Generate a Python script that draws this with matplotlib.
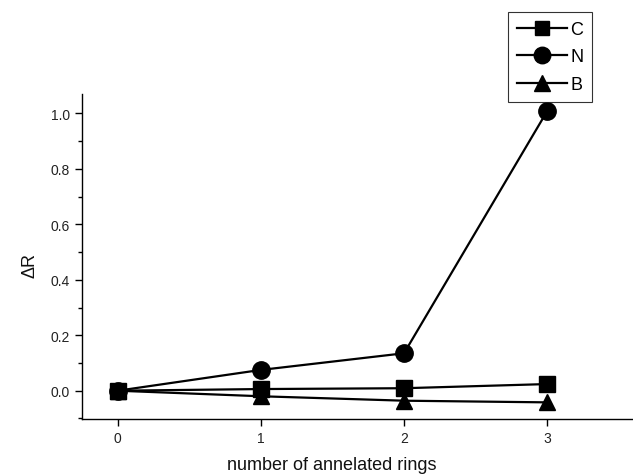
import matplotlib
matplotlib.use("Agg")
import matplotlib.pyplot as plt
from matplotlib.ticker import MultipleLocator

x = [0, 1, 2, 3]
C = [0.0, 0.006, 0.009, 0.024]
N = [0.0, 0.075, 0.135, 1.008]
B = [0.0, -0.020, -0.036, -0.042]
xticks = [0, 1, 2, 3]
yticks = [0.0, 0.2, 0.4, 0.6, 0.8, 1.0]

plt.rcParams['font.family'] = ['Liberation Sans', 'DejaVu Sans']

W, H = 633, 477
fig = plt.figure(figsize=(W/100, H/100), dpi=100)
ax = fig.add_axes([82/W, 1-420/H, 1-82/W, (420-95)/H])

lc, = ax.plot(x, C, '-s', color='black', lw=1.6, ms=11, label='C')
ln, = ax.plot(x, N, '-o', color='black', lw=1.6, ms=12.5, label='N')
lb, = ax.plot(x, B, '-^', color='black', lw=1.6, ms=12, label='B')
for l in (lc, ln, lb):
    l.set_clip_on(False)

ax.set_xlim(-0.25, 3.6)
ax.set_ylim(-0.102, 1.07)
ax.set_xticks(xticks)
ax.set_yticks(yticks)
ax.set_yticklabels([f"{v:.1f}" for v in yticks])
ax.yaxis.set_minor_locator(MultipleLocator(0.1))
ax.tick_params(axis='both', which='major', direction='out', length=5, width=1,
               labelsize=10, pad=3.5, labelcolor='#222222')
ax.tick_params(axis='y', which='minor', direction='out', length=3, width=1)
for s in ('top', 'right'):
    ax.spines[s].set_visible(False)
for s in ('left', 'bottom'):
    ax.spines[s].set_linewidth(1)

fig.text(332/W, 1-466/H, 'number of annelated rings', fontsize=13,
         ha='center', va='center', color='#111111')
fig.text(30/W, 1-266/H, 'ΔR', fontsize=13, rotation=90,
         ha='center', va='center', color='#111111')

leg = fig.legend(handles=[lc, ln, lb], loc='upper left',
                 bbox_to_anchor=(508/W, 1-13/H), fontsize=13,
                 frameon=True, fancybox=False, edgecolor='black',
                 handlelength=2.75, handletextpad=0.2, borderpad=0.5,
                 labelspacing=0.58, borderaxespad=0, markerscale=0.95)
leg.get_frame().set_linewidth(0.8)

fig.savefig('out.png', dpi=100)
